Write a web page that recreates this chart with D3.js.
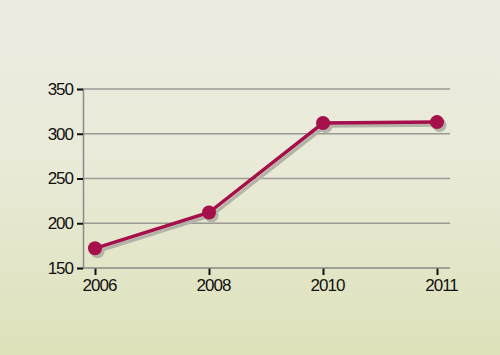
<!DOCTYPE html>
<html>
<head>
<meta charset="utf-8">
<script src="https://cdn.jsdelivr.net/npm/d3@7"></script>
<style>
  body { margin: 0; }
  text { font-family: "Liberation Sans", Arial, sans-serif; }
</style>
</head>
<body>
<svg width="500" height="355"></svg>
<script>
// 数据
var years = ["2006", "2008", "2010", "2011"];
var values = [172, 212, 312, 313];
var yTicks = [150, 200, 250, 300, 350];

var svg = d3.select("svg");

// 背景渐变
var defs = svg.append("defs");
var grad = defs.append("linearGradient")
    .attr("id", "bg")
    .attr("x1", 0).attr("y1", 0).attr("x2", 0).attr("y2", 1);
grad.append("stop").attr("offset", "0%").attr("stop-color", "#ecebe2");
grad.append("stop").attr("offset", "45%").attr("stop-color", "#e9ead8");
grad.append("stop").attr("offset", "100%").attr("stop-color", "#dde2ba");
svg.append("rect").attr("width", 500).attr("height", 355).attr("fill", "url(#bg)");

var x = d3.scalePoint().domain(years).range([95, 437]);
var y = d3.scaleLinear().domain([150, 350]).range([268, 89]);

// 网格线
svg.append("g")
    .selectAll("line")
    .data(yTicks.slice(1))
    .enter().append("line")
    .attr("x1", 83).attr("x2", 450)
    .attr("y1", function(d) { return y(d); })
    .attr("y2", function(d) { return y(d); })
    .attr("stroke", "#9a9a94")
    .attr("stroke-width", 1.5);

// y轴
var yAxis = svg.append("g")
    .attr("transform", "translate(83,0)")
    .call(d3.axisLeft(y).tickValues(yTicks).tickSize(6).tickPadding(4));
yAxis.select(".domain").attr("stroke", "#8a8a86").attr("stroke-width", 1.5);
yAxis.selectAll(".tick line").attr("stroke", "#111").attr("stroke-width", 2);
yAxis.selectAll(".tick text").attr("font-size", 17).attr("fill", "#111")
    .attr("letter-spacing", -1).attr("font-family", "Liberation Sans, Arial, sans-serif");

// x轴
var xAxis = svg.append("g")
    .attr("transform", "translate(0,268)")
    .call(d3.axisBottom(x).tickSize(7).tickPadding(4));
xAxis.select(".domain").remove();
xAxis.append("line").attr("x1", 83).attr("x2", 450)
    .attr("stroke", "#8a8a86").attr("stroke-width", 1.5);
xAxis.selectAll(".tick line").attr("stroke", "#111").attr("stroke-width", 2);
xAxis.selectAll(".tick text").attr("font-size", 17).attr("fill", "#111")
    .attr("dx", 4)
    .attr("letter-spacing", -1).attr("font-family", "Liberation Sans, Arial, sans-serif");

var pts = years.map(function(d, i) { return [x(d), y(values[i])]; });
var line = d3.line();

// 阴影
var shadow = svg.append("g").attr("transform", "translate(2.5,3)");
shadow.append("path").attr("d", line(pts)).attr("fill", "none")
    .attr("stroke", "#b4b3a8").attr("stroke-width", 3.5);
shadow.selectAll("circle").data(pts).enter().append("circle")
    .attr("cx", function(d) { return d[0]; })
    .attr("cy", function(d) { return d[1]; })
    .attr("r", 7).attr("fill", "#b4b3a8");

// 折线和点
svg.append("path").attr("d", line(pts)).attr("fill", "none")
    .attr("stroke", "#a50f4a").attr("stroke-width", 3.5);
svg.append("g").selectAll("circle").data(pts).enter().append("circle")
    .attr("cx", function(d) { return d[0]; })
    .attr("cy", function(d) { return d[1]; })
    .attr("r", 7).attr("fill", "#a50f4a");
</script>
</body>
</html>
